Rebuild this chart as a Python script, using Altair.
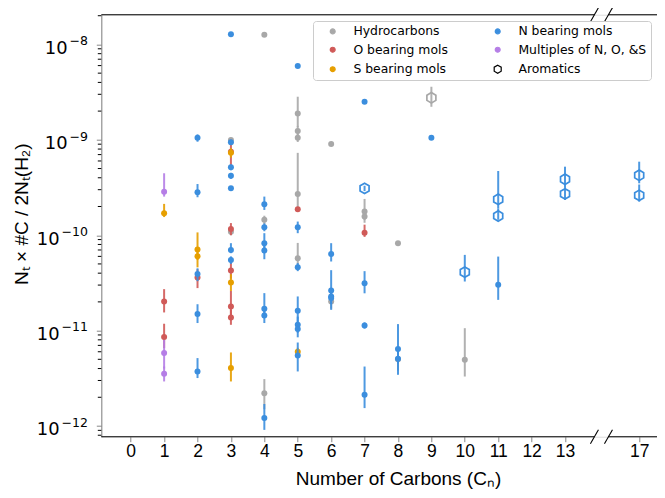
import math
import altair as alt
import pandas as pd

# ---------------- data ----------------
# Hydrocarbons
HC_N    = [3, 3, 4, 4, 4, 5, 5, 5, 5, 5, 6, 6, 7, 7, 8, 8, 9, 10]
HC_VAL  = [9.95e-10, 1.09e-10, 1.26e-8, 1.45e-10, 2.2e-12, 1.89e-9, 1.24e-9, 1.05e-9, 2.71e-10, 5.74e-11,
           9.04e-10, 2.02e-11, 1.77e-10, 1.57e-10, 8.25e-11, 5.0e-12, 2.76e-9, 4.94e-12]
HC_LO   = [9.0e-10, 1.0e-10, 1.26e-8, 1.3e-10, 1.5e-12, 1.37e-9, 1.1e-9, 9.5e-10, 1.9e-10, 4.7e-11,
           9.04e-10, 1.7e-11, 1.45e-10, 1.35e-10, 7.8e-11, 3.8e-12, 2.22e-9, 3.3e-12]
HC_HI   = [1.05e-9, 1.2e-10, 1.26e-8, 1.6e-10, 3.1e-12, 2.83e-9, 1.4e-9, 1.15e-9, 7.3e-10, 8.3e-11,
           9.04e-10, 2.4e-11, 2.4e-10, 1.85e-10, 8.7e-11, 6.5e-12, 3.6e-9, 1.06e-11]
HC_AROM = [0, 0, 0, 0, 0, 0, 0, 0, 0, 0, 0, 0, 0, 0, 0, 0, 1, 0]

# O bearing molecules
O_N    = [1, 1, 2, 3, 3, 3, 3, 3, 5, 7]
O_VAL  = [2.02e-11, 8.55e-12, 3.6e-11, 7.5e-10, 1.16e-10, 4.26e-11, 1.79e-11, 1.37e-11, 1.87e-10, 1.06e-10]
O_LO   = [1.55e-11, 6.56e-12, 2.79e-11, 5.4e-10, 1.0e-10, 3.5e-11, 1.45e-11, 1.15e-11, 1.87e-10, 9.6e-11]
O_HI   = [2.72e-11, 1.18e-11, 4.4e-11, 1.0e-9, 1.34e-10, 5.2e-11, 2.6e-11, 1.65e-11, 1.87e-10, 1.29e-10]
O_AROM = [0, 0, 0, 0, 0, 0, 0, 0, 0, 0]

# S bearing molecules
S_N    = [1, 2, 2, 3, 3, 3, 5]
S_VAL  = [1.70e-10, 7.1e-11, 6.0e-11, 7.3e-10, 3.19e-11, 4.05e-12, 6.0e-12]
S_LO   = [1.55e-10, 5.5e-11, 4.6e-11, 6.5e-10, 2.6e-11, 2.93e-12, 5.5e-12]
S_HI   = [2.13e-10, 1.07e-10, 7.5e-11, 8.2e-10, 3.9e-11, 5.9e-12, 6.6e-12]
S_AROM = [0, 0, 0, 0, 0, 0, 0]

# N bearing molecules
N_N    = [2, 2, 2, 2, 2,
          3, 3, 3, 3, 3, 3, 3,
          4, 4, 4, 4, 4, 4, 4,
          5, 5, 5, 5, 5, 5, 5,
          6, 6, 6, 6,
          7, 7, 7, 7, 7,
          8, 8, 9, 10, 11, 11, 11, 13, 13, 17, 17]
N_VAL  = [1.05e-9, 2.82e-10, 3.91e-11, 1.49e-11, 3.73e-12,
          1.28e-8, 9.41e-10, 5.15e-10, 4.21e-10, 3.1e-10, 7.0e-11, 5.5e-11,
          2.11e-10, 1.21e-10, 8.25e-11, 6.9e-11, 1.69e-11, 1.44e-11, 1.21e-12,
          5.93e-9, 1.21e-10, 4.62e-11, 1.61e-11, 1.15e-11, 1.04e-11, 5.48e-12,
          6.37e-11, 2.63e-11, 2.28e-11, 2.2e-11,
          2.51e-9, 3.1e-10, 3.14e-11, 1.13e-11, 2.13e-12,
          6.4e-12, 5.07e-12, 1.05e-9, 4.1e-11, 2.38e-10, 1.59e-10, 3.02e-11, 3.86e-10, 2.71e-10, 4.25e-10, 2.62e-10]
N_LO   = [9.55e-10, 2.5e-10, 3.3e-11, 1.2e-11, 3.18e-12,
          1.28e-8, 8.8e-10, 4.8e-10, 3.9e-10, 2.95e-10, 6.48e-11, 5.0e-11,
          1.84e-10, 1.1e-10, 6.9e-11, 5.6e-11, 1.4e-11, 1.2e-11, 9.1e-13,
          5.93e-9, 1.05e-10, 4.2e-11, 1.3e-11, 9.5e-12, 8.5e-12, 3.73e-12,
          5.3e-11, 2.1e-11, 1.9e-11, 1.65e-11,
          2.51e-9, 2.9e-10, 2.46e-11, 1.05e-11, 1.54e-12,
          4.5e-12, 3.44e-12, 1.05e-9, 3.27e-11, 1.9e-10, 1.45e-10, 2.1e-11, 3.2e-10, 2.34e-10, 3.5e-10, 2.25e-10]
N_HI   = [1.14e-9, 3.44e-10, 4.5e-11, 1.89e-11, 5.15e-12,
          1.28e-8, 1.0e-9, 5.5e-10, 4.5e-10, 3.25e-10, 8.25e-11, 6.0e-11,
          2.54e-10, 1.33e-10, 1.05e-10, 8.5e-11, 2.47e-11, 1.7e-11, 1.7e-12,
          5.93e-9, 1.39e-10, 5.1e-11, 2.28e-11, 1.4e-11, 1.3e-11, 7.5e-12,
          8.25e-11, 4.3e-11, 2.8e-11, 2.7e-11,
          2.51e-9, 3.3e-10, 4.2e-11, 1.22e-11, 4.2e-12,
          1.17e-11, 6.5e-12, 1.05e-9, 6.22e-11, 4.71e-10, 1.9e-10, 5.97e-11, 5.23e-10, 3.2e-10, 5.9e-10, 3.4e-10]
N_AROM = [0] * 31 + [1, 0, 0, 0, 0, 0, 0, 1, 1, 1, 0, 1, 1, 1, 1]

# Multiples of N, O, & S
M_N    = [1, 1, 1]
M_VAL  = [2.86e-10, 5.81e-12, 3.53e-12]
M_LO   = [2.54e-10, 4.0e-12, 2.93e-12]
M_HI   = [4.46e-10, 8.0e-12, 4.2e-12]
M_AROM = [0, 0, 0]

LABELS = ["Hydrocarbons", "O bearing mols", "S bearing mols", "N bearing mols", "Multiples of N, O, &S"]
COLORS = ["#a8a8a8", "#d05a58", "#e69f00", "#3b8ede", "#b57ee6"]

X_TICKS = [0, 1, 2, 3, 4, 5, 6, 7, 8, 9, 10, 11, 12, 13, 17]
Y_TICKS = [1e-12, 1e-11, 1e-10, 1e-9, 1e-8]

# ---------------- layout helpers ----------------
W, H = 555.7, 422
BREAK_POS = 15.22          # where carbon number 17 sits after the axis break
X_DOM = [-0.88, 15.753]
Y_DOM = [7.72e-13, 2.05e-8]
FONT = "DejaVu Sans"
HEX = "M0,-1L0.866,-0.5L0.866,0.5L0,1L-0.866,0.5L-0.866,-0.5Z"
HEX_LEG = "M0,-1.65L1.43,-0.825L1.43,0.825L0,1.65L-1.43,0.825L-1.43,-0.825Z"
TICK_FS, EXP_FS = 17.9, 12.5


def pos_of(n):
    return n if n <= 13 else BREAK_POS


series = [
    (HC_N, HC_VAL, HC_LO, HC_HI, HC_AROM),
    (O_N, O_VAL, O_LO, O_HI, O_AROM),
    (S_N, S_VAL, S_LO, S_HI, S_AROM),
    (N_N, N_VAL, N_LO, N_HI, N_AROM),
    (M_N, M_VAL, M_LO, M_HI, M_AROM),
]

xscale = alt.Scale(domain=X_DOM, nice=False, zero=False)
yscale = alt.Scale(type="log", domain=Y_DOM, nice=False)

x_label_expr = "datum.value > 14 ? '17' : format(datum.value, 'd')"

xaxis = alt.Axis(values=[pos_of(v) for v in X_TICKS], labelExpr=x_label_expr, domain=False,
                 grid=False, tickSize=5, labelFontSize=17.5, labelPadding=1,
                 title="Number of Carbons (Cₙ)", titleFontSize=19, titleFontWeight="normal",
                 titleX=296.7, titleY=51.5, titleBaseline="bottom", titleAlign="center")
yaxis = alt.Axis(values=Y_TICKS, labels=False, grid=False, tickSize=5,
                 title="Nₜ × #C / 2Nₜ(H₂)", titleFontSize=19, titleFontWeight="normal",
                 titleX=-80, titleY=199, titleBaseline="middle")

X = lambda f: alt.X(f, scale=xscale, axis=xaxis)
Y = lambda f: alt.Y(f, scale=yscale, axis=yaxis)

layers = []

# spines (top / bottom with a break) -------------------------------------
spine_df = pd.DataFrame({"x0": [X_DOM[0], 14.30], "x1": [13.88, X_DOM[1]]})
for yy in (0, H):
    layers.append(alt.Chart(spine_df).mark_rule(color="black", strokeWidth=1.1).encode(
        x=X("x0:Q"), x2="x1:Q", y=alt.value(yy)))
brk_df = pd.DataFrame({"b": [13.88, 14.30]})
for yy in (0, H):
    layers.append(alt.Chart(brk_df).transform_calculate(
        a="datum.b - 0.12", c="datum.b + 0.12").mark_rule(color="black", strokeWidth=1.1).encode(
        x=X("a:Q"), x2="c:Q", y=alt.value(yy + 7), y2=alt.value(yy - 7)))

# minor log ticks ---------------------------------------------------------
minor = [m * 10.0 ** e for e in range(-13, -7) for m in range(2, 10)]
minor = [v for v in minor if Y_DOM[0] <= v <= Y_DOM[1]]
layers.append(alt.Chart(pd.DataFrame({"v": minor})).mark_rule(color="black", strokeWidth=1).encode(
    y=Y("v:Q"), x=alt.value(-3.5), x2=alt.value(0)))

# y tick labels drawn as "10" + raised exponent (mathtext style) ----------
exps = ["−" + str(abs(int(round(math.log10(v))))) for v in Y_TICKS]
exp_w = [EXP_FS * (0.838 + 0.636 * (len(e) - 1)) for e in exps]
ylab = pd.DataFrame({"v": Y_TICKS, "e": exps, "b": ["10"] * len(Y_TICKS),
                     "bx": [-13.3 - w - 2 for w in exp_w]})
layers.append(alt.Chart(ylab).mark_text(align="right", baseline="alphabetic", fontSize=TICK_FS,
                                        font=FONT, color="black", dy=9.4).encode(
    y=Y("v:Q"), x=alt.X("bx:Q", scale=None), text="b:N"))
layers.append(alt.Chart(ylab).mark_text(align="right", baseline="alphabetic", fontSize=EXP_FS,
                                        font=FONT, color="black", dy=0.7).encode(
    y=Y("v:Q"), x=alt.value(-13.3), text="e:N"))

# data series ---------------------------------------------------------------
for (ns, vals, los, his, arom), lab, col in zip(series, LABELS, COLORS):
    df = pd.DataFrame({"pos": [pos_of(n) for n in ns], "val": vals, "lo": los, "hi": his,
                       "arom": arom, "col": col, "group": lab})
    base = alt.Chart(df)
    layers.append(base.mark_rule(strokeWidth=2, opacity=0.9).encode(
        x=X("pos:Q"), y=Y("lo:Q"), y2="hi:Q", color=alt.Color("col:N", scale=None)))
    layers.append(base.transform_filter("datum.arom == 0").mark_point(
        filled=True, size=36, opacity=1).encode(
        x=X("pos:Q"), y=Y("val:Q"), color=alt.Color("col:N", scale=None)))
    layers.append(base.transform_filter("datum.arom == 1").mark_point(
        shape=HEX, filled=False, size=108, strokeWidth=1.7, opacity=1).encode(
        x=X("pos:Q"), y=Y("val:Q"), color=alt.Color("col:N", scale=None)))

# legend (invisible, clipped points carry the legend) ----------------------
LEG_ORDER = LABELS + ["Aromatics"]
col_of = dict(zip(LABELS, COLORS))
FILLS = [col_of.get(l, "transparent") for l in LEG_ORDER]
STROKES = [col_of.get(l, "black") for l in LEG_ORDER]
SHAPES = ["circle" if l != "Aromatics" else HEX_LEG for l in LEG_ORDER]
leg = alt.Legend(title=None, orient="none", legendX=211.7, legendY=6.3, columns=2,
                 labelFontSize=12.4, labelFont=FONT, labelColor="black", labelLimit=400,
                 fillColor="white", strokeColor="#cccccc", cornerRadius=3, padding=4,
                 rowPadding=5.5, columnPadding=34, labelOffset=14.5, symbolOffset=9.5,
                 symbolSize=24, symbolStrokeWidth=1.2)
leg_df = pd.DataFrame({"label": LEG_ORDER})
layers.append(alt.Chart(leg_df).mark_point(size=24, strokeWidth=1.2, clip=True, opacity=1).encode(
    x=alt.value(-400), y=alt.value(-400),
    fill=alt.Fill("label:N", scale=alt.Scale(domain=LEG_ORDER, range=FILLS), legend=leg),
    stroke=alt.Stroke("label:N", scale=alt.Scale(domain=LEG_ORDER, range=STROKES), legend=leg),
    shape=alt.Shape("label:N", scale=alt.Scale(domain=LEG_ORDER, range=SHAPES), legend=leg),
))

chart = alt.layer(*layers).properties(
    width=W, height=H,
    autosize=alt.AutoSizeParams(type="none"),
    padding={"left": 93.3, "top": 6.7, "right": 0, "bottom": 52.3},
).configure_view(strokeWidth=0).configure_axis(
    labelFont=FONT, titleFont=FONT, labelColor="black", titleColor="black",
    tickColor="black", domainColor="black", domainWidth=1.1, tickWidth=1.1,
).configure(background="white")

chart.save("out.html", embed_options={"renderer": "svg", "actions": False})
